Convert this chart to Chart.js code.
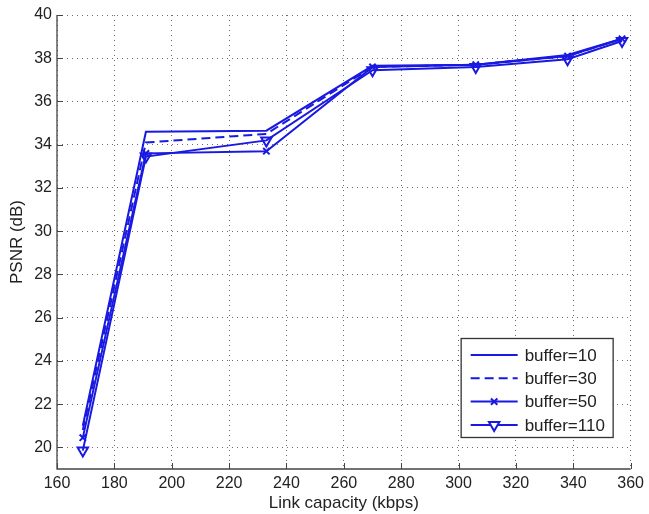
<!DOCTYPE html>
<html><head><meta charset="utf-8">
<script src="https://cdn.jsdelivr.net/npm/chart.js@4/dist/chart.umd.min.js"></script>
<style>html,body{margin:0;padding:0;background:#fff}#wrap{width:649px;height:514px}</style>
</head><body><div id="wrap"><canvas id="c" width="649" height="514"></canvas></div>
<script>
const capacities = [169, 191, 233, 270, 306, 338, 357];
const buffer10  = [21.0, 34.6, 34.65, 37.65, 37.7, 38.15, 38.9];
const buffer30  = [20.8, 34.1, 34.5, 37.6, 37.7, 38.1, 38.9];
const buffer50  = [20.45, 33.6, 33.7, 37.6, 37.7, 38.1, 38.9];
const buffer110 = [19.85, 33.45, 34.2, 37.45, 37.6, 37.95, 38.8];
const seriesNames = ['buffer=10', 'buffer=30', 'buffer=50', 'buffer=110'];
const xTicks = [160, 180, 200, 220, 240, 260, 280, 300, 320, 340, 360];
const yTicks = [20, 22, 24, 26, 28, 30, 32, 34, 36, 38, 40];

const BLUE = 'rgb(25,25,225)';
const FONT = '"Liberation Sans", Arial, Helvetica, sans-serif';
const LW = 2;
const pts = arr => arr.map((v, i) => ({x: capacities[i], y: v}));

const datasets = [
  {label: seriesNames[0], data: pts(buffer10), borderColor: BLUE, borderWidth: LW, pointRadius: 0, fill: false},
  {label: seriesNames[1], data: pts(buffer30), borderColor: BLUE, borderWidth: LW, borderDash: [9, 5], pointRadius: 0, fill: false},
  {label: seriesNames[2], data: pts(buffer50), borderColor: BLUE, borderWidth: LW, pointStyle: 'crossRot', pointRadius: 4.5, pointBorderWidth: LW, pointBorderColor: BLUE, fill: false},
  {label: seriesNames[3], data: pts(buffer110), borderColor: BLUE, borderWidth: LW, pointStyle: 'triangle', pointRotation: 180, pointRadius: 6, pointBorderWidth: LW, pointBorderColor: BLUE, pointBackgroundColor: 'rgba(255,255,255,0)', fill: false}
];

const axesTicks = {
  id: 'axesTicks',
  afterDraw(chart) {
    const ctx = chart.ctx, xs = chart.scales.x, ys = chart.scales.y, a = chart.chartArea;
    ctx.save();
    ctx.strokeStyle = '#444'; ctx.lineWidth = 1.3; ctx.setLineDash([]);
    ctx.beginPath(); ctx.moveTo(a.left, a.top); ctx.lineTo(a.left, a.bottom); ctx.lineTo(a.right, a.bottom); ctx.stroke();
    ctx.lineWidth = 1;
    xTicks.forEach(v => { const px = Math.round(xs.getPixelForValue(v)) + 0.5; ctx.beginPath(); ctx.moveTo(px, a.bottom); ctx.lineTo(px, a.bottom - 6); ctx.stroke(); });
    yTicks.forEach(v => { const py = Math.round(ys.getPixelForValue(v)) + 0.5; ctx.beginPath(); ctx.moveTo(a.left, py); ctx.lineTo(a.left + 6, py); ctx.stroke(); });
    ctx.restore();
  }
};

const boxLegend = {
  id: 'boxLegend',
  afterDraw(chart) {
    const ctx = chart.ctx, a = chart.chartArea;
    const w = 152, h = 99, x0 = a.right - 18 - w, y0 = a.bottom - 32 - h;
    ctx.save();
    ctx.fillStyle = '#fff';
    ctx.fillRect(x0, y0, w, h);
    ctx.strokeStyle = '#333'; ctx.lineWidth = 1.3;
    ctx.strokeRect(x0 + 0.5, y0 + 0.5, w, h);
    ctx.font = '17px ' + FONT; ctx.textBaseline = 'middle';
    chart.data.datasets.forEach((ds, i) => {
      const y = y0 + 17 + i * 23.3;
      ctx.strokeStyle = ds.borderColor; ctx.lineWidth = ds.borderWidth;
      ctx.setLineDash(ds.borderDash || []);
      ctx.beginPath(); ctx.moveTo(x0 + 10, y); ctx.lineTo(x0 + 57, y); ctx.stroke();
      ctx.setLineDash([]);
      if (ds.pointRadius > 0) {
        ctx.fillStyle = '#fff';
        ctx.strokeStyle = ds.borderColor; ctx.lineWidth = ds.pointBorderWidth;
        Chart.helpers.drawPoint(ctx, {pointStyle: ds.pointStyle, rotation: ds.pointRotation || 0, radius: ds.pointRadius, borderWidth: ds.pointBorderWidth}, x0 + 33.5, y);
      }
      ctx.fillStyle = '#222';
      ctx.fillText(ds.label, x0 + 64, y + 1);
    });
    ctx.restore();
  }
};

new Chart(document.getElementById('c'), {
  type: 'line',
  data: {datasets},
  options: {
    responsive: false, animation: false,
    layout: {padding: {top: 15, right: 16, left: 7, bottom: 0}},
    plugins: {legend: {display: false}, tooltip: {enabled: false}},
    scales: {
      x: {
        type: 'linear', min: 160, max: 360,
        afterBuildTicks: s => { s.ticks = xTicks.map(v => ({value: v})); },
        afterFit: s => { s.height = 45; },
        grid: {color: 'rgba(60,60,60,0.75)', drawTicks: false, lineWidth: 1},
        border: {display: false, dash: [1, 4]},
        ticks: {font: {size: 16, family: FONT}, color: '#222', padding: 5, maxRotation: 0, autoSkip: false},
        title: {display: true, text: 'Link capacity (kbps)', font: {size: 17, family: FONT}, color: '#222', padding: {top: 1, bottom: 0}}
      },
      y: {
        type: 'linear', min: 19, max: 40,
        afterBuildTicks: s => { s.ticks = yTicks.map(v => ({value: v})); },
        afterFit: s => { s.width = 50; },
        grid: {color: 'rgba(60,60,60,0.75)', drawTicks: false, lineWidth: 1},
        border: {display: false, dash: [1, 4]},
        ticks: {font: {size: 16, family: FONT}, color: '#222', padding: 5, autoSkip: false},
        title: {display: true, text: 'PSNR (dB)', font: {size: 17, family: FONT}, color: '#222', padding: {top: 0, bottom: 1}}
      }
    }
  },
  plugins: [axesTicks, boxLegend]
});
</script></body></html>
